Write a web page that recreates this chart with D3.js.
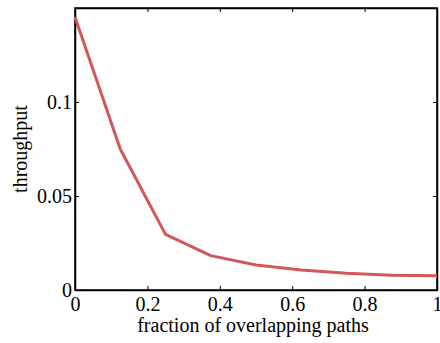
<!DOCTYPE html>
<html>
<head>
<meta charset="utf-8">
<script src="https://cdn.jsdelivr.net/npm/d3@7"></script>
<style>
  body { margin: 0; background: #fff; }
  text { font-family: "Liberation Serif", "Times New Roman", serif; }
</style>
</head>
<body>
<div id="plot"></div>
<script>
// values
const fractions = [0, 0.125, 0.25, 0.375, 0.5, 0.625, 0.75, 0.875, 1];
const throughput = [0.1452, 0.075, 0.0296, 0.0183, 0.0133, 0.0106, 0.0089, 0.0078, 0.0076];
const xTicks = [0, 0.2, 0.4, 0.6, 0.8, 1];
const yTicks = [0, 0.05, 0.1];
const xLabels = ["0", "0.2", "0.4", "0.6", "0.8", "1"];
const yLabels = ["0", "0.05", "0.1"];

const svgWidth = 440, svgHeight = 343;
const margin = { top: 8, right: 3, bottom: 53, left: 75 };
const width = svgWidth - margin.left - margin.right;
const height = svgHeight - margin.top - margin.bottom;

const svg = d3.select("#plot").append("svg")
  .attr("width", svgWidth)
  .attr("height", svgHeight);
const g = svg.append("g")
  .attr("transform", "translate(" + margin.left + "," + margin.top + ")");

const xScale = d3.scaleLinear().domain([0, 1]).range([0, width]);
const yScale = d3.scaleLinear().domain([0, 0.15]).range([height, 0]);

// ticks point inward, mirrored on top and right
const tick = 4;
const xAxisCall = d3.axisBottom(xScale).tickValues(xTicks)
  .tickFormat((d, i) => xLabels[i]).tickSizeInner(-tick).tickSizeOuter(0).tickPadding(0);
const yAxisCall = d3.axisLeft(yScale).tickValues(yTicks)
  .tickFormat((d, i) => yLabels[i]).tickSizeInner(-tick).tickSizeOuter(0).tickPadding(3);

const xAxis = g.append("g").attr("class", "x axis")
  .attr("transform", "translate(0," + height + ")")
  .call(xAxisCall);
const yAxis = g.append("g").attr("class", "y axis").call(yAxisCall);

g.append("g").attr("transform", "translate(0,0)")
  .call(d3.axisTop(xScale).tickValues(xTicks).tickFormat("").tickSizeInner(-tick).tickSizeOuter(0));
g.append("g").attr("transform", "translate(" + width + ",0)")
  .call(d3.axisRight(yScale).tickValues(yTicks).tickFormat("").tickSizeInner(-tick).tickSizeOuter(0));

g.selectAll(".domain").attr("stroke", "#000").attr("stroke-width", 1.5);
g.selectAll(".tick line").attr("stroke", "#000").attr("stroke-width", 1);
g.selectAll(".tick text").attr("fill", "#000").style("font-size", "20px");
// baseline of x tick labels about 21px under the axis
xAxis.selectAll(".tick text").attr("y", 21).attr("dy", null);
yAxis.selectAll(".tick text").attr("dy", "0.33em");

// box
g.append("rect")
  .attr("width", width).attr("height", height)
  .attr("fill", "none").attr("stroke", "#000").attr("stroke-width", 1.5);

const line = d3.line()
  .x((d, i) => xScale(fractions[i]))
  .y(d => yScale(d));

g.append("path")
  .datum(throughput)
  .attr("fill", "none")
  .attr("stroke", "#d05858")
  .attr("stroke-width", 3)
  .attr("stroke-linejoin", "round")
  .attr("d", line);

svg.append("text")
  .attr("x", 253)
  .attr("y", 332)
  .attr("text-anchor", "middle")
  .style("font-size", "20px")
  .text("fraction of overlapping paths");

svg.append("text")
  .attr("transform", "translate(27," + (margin.top + height / 2) + ") rotate(-90)")
  .attr("text-anchor", "middle")
  .style("font-size", "20px")
  .text("throughput");
</script>
</body>
</html>
